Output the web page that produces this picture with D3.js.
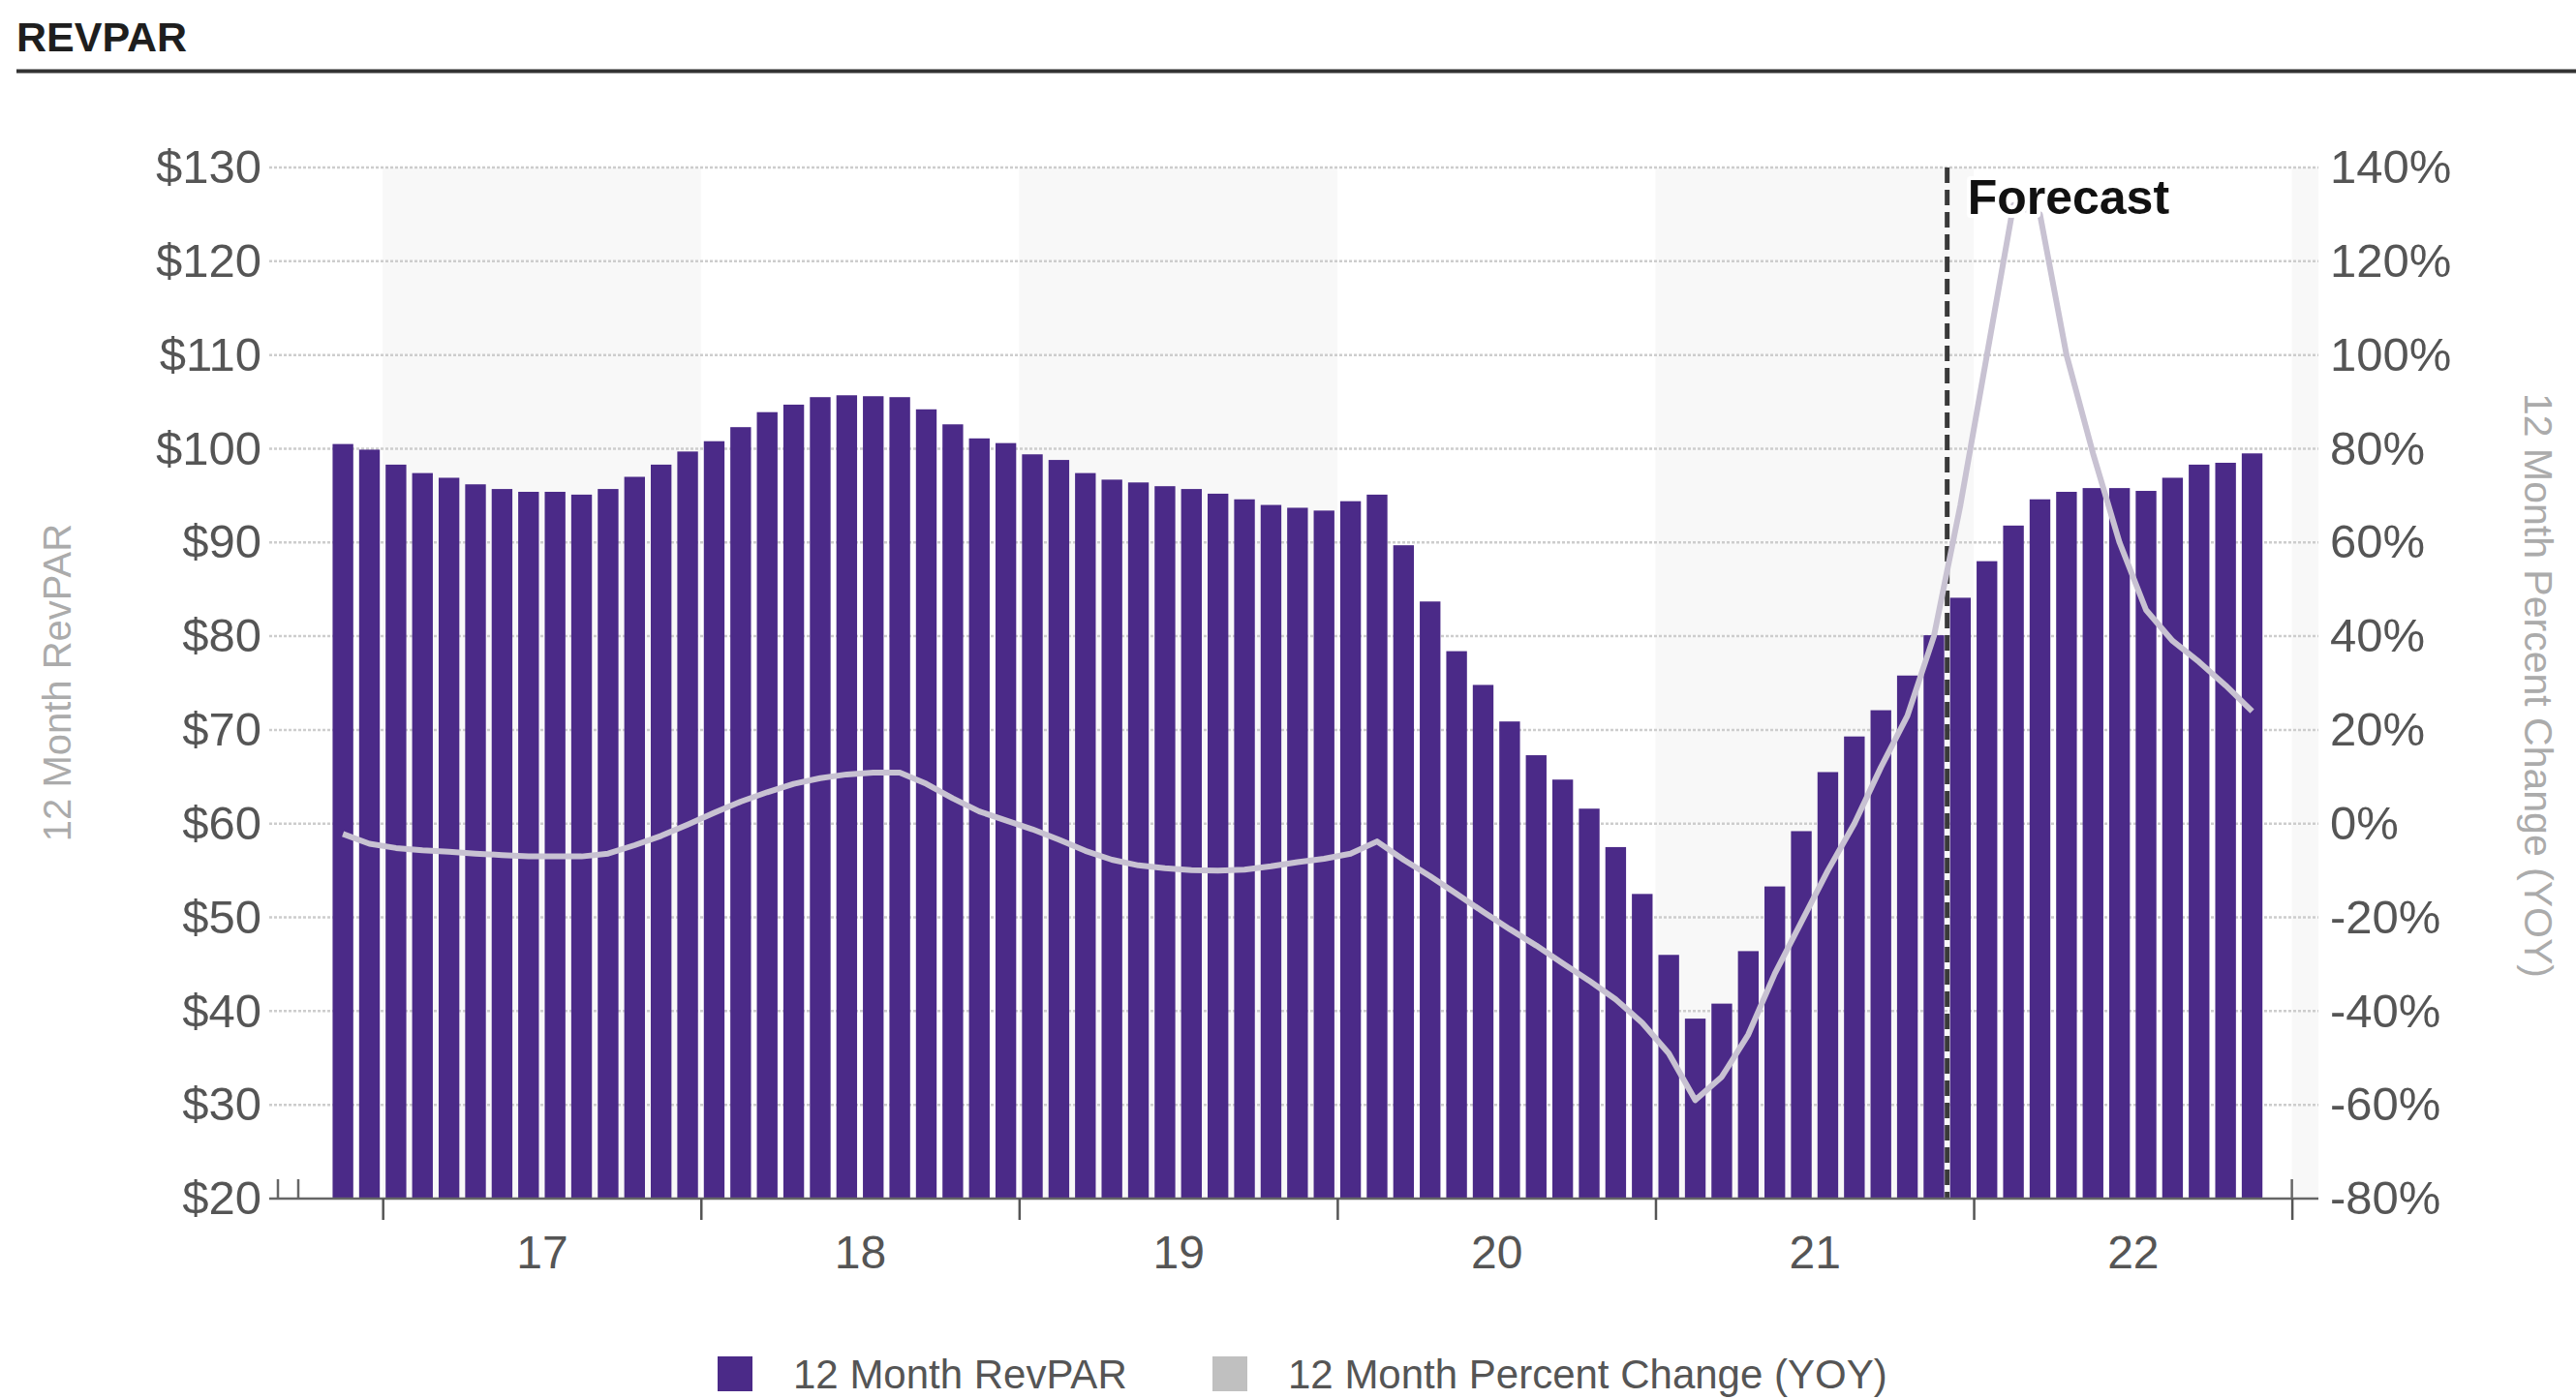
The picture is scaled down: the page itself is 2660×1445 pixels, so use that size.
<!DOCTYPE html>
<html><head><meta charset="utf-8">
<script src="https://cdn.jsdelivr.net/npm/d3@7"></script>
<style>
body{margin:0;background:#fff;}
svg{display:block;font-family:"Liberation Sans",Arial,Helvetica,sans-serif;}
</style></head><body>
<svg id="c" width="2660" height="1445"></svg>
<script>
// ---------- DATA ----------
const months = [
 "2016-11","2016-12",
 "2017-01","2017-02","2017-03","2017-04","2017-05","2017-06","2017-07","2017-08","2017-09","2017-10","2017-11","2017-12",
 "2018-01","2018-02","2018-03","2018-04","2018-05","2018-06","2018-07","2018-08","2018-09","2018-10","2018-11","2018-12",
 "2019-01","2019-02","2019-03","2019-04","2019-05","2019-06","2019-07","2019-08","2019-09","2019-10","2019-11","2019-12",
 "2020-01","2020-02","2020-03","2020-04","2020-05","2020-06","2020-07","2020-08","2020-09","2020-10","2020-11","2020-12",
 "2021-01","2021-02","2021-03","2021-04","2021-05","2021-06","2021-07","2021-08","2021-09","2021-10","2021-11","2021-12",
 "2022-01","2022-02","2022-03","2022-04","2022-05","2022-06","2022-07","2022-08","2022-09","2022-10","2022-11"
];
const revpar = [
 100.5, 99.9,
 98.3, 97.4, 96.9, 96.2, 95.7, 95.4, 95.4, 95.1, 95.7, 97.0, 98.3, 99.7,
 100.8, 102.3, 103.9, 104.7, 105.5, 105.7, 105.6, 105.5, 104.2, 102.6, 101.1, 100.6,
 99.4, 98.8, 97.4, 96.7, 96.4, 96.0, 95.7, 95.2, 94.6, 94.0, 93.7, 93.4,
 94.4, 95.1, 89.7, 83.7, 78.4, 74.8, 70.9, 67.3, 64.7, 61.6, 57.5, 52.5,
 46.0, 39.2, 40.8, 46.4, 53.3, 59.2, 65.5, 69.3, 72.1, 75.8, 80.1, 84.1,
 88.0, 91.8, 94.6, 95.4, 95.8, 95.8, 95.5, 96.9, 98.3, 98.5, 99.5
];
const pctChange = [
 -2.2, -4.3,
 -5.2, -5.7, -6.0, -6.4, -6.7, -7.0, -7.0, -7.0, -6.4, -4.6, -2.6, -0.2,
 2.3, 4.7, 6.7, 8.5, 9.7, 10.5, 10.9, 10.9, 8.5, 5.4, 2.6, 0.7,
 -1.2, -3.4, -5.8, -7.7, -8.9, -9.5, -9.9, -10.0, -9.8, -9.1, -8.2, -7.5,
 -6.4, -3.8, -7.7, -11.2, -15.0, -18.8, -22.5, -26.0, -29.8, -33.5, -37.5, -42.5,
 -49.0, -59.0, -54.0, -45.0, -32.0, -21.0, -10.0, 0.0, 12.0, 23.0, 40.0, 68.0,
 100.0, 132.0, 130.0, 100.0, 79.0, 60.0, 45.6, 39.0, 34.5, 29.5, 24.0
];
const leftTicks = [20,30,40,50,60,70,80,90,100,110,120,130];
const rightTicks = [-80,-60,-40,-20,0,20,40,60,80,100,120,140];
const years = [2017,2018,2019,2020,2021,2022];
const yearLabels = ["17","18","19","20","21","22"];
const shadedYears = [2017,2019,2021,2023];
const forecastStart = "2021-12";
const seriesNames = ["12 Month RevPAR","12 Month Percent Change (YOY)"];
const title = "REVPAR";
const leftTitle = "12 Month RevPAR";
const rightTitle = "12 Month Percent Change (YOY)";

// ---------- LAYOUT ----------
const PL = 278, PR = 2394, PT = 173, PB = 1238;
const barColor = "#4b2a88", lineColor = "#c8c2d2";
const svg = d3.select("#c");

const mIdx = s => { const [y,m] = s.split("-").map(Number); return (y-2017)*12 + (m-1); };
const x = d3.scaleLinear().domain([-4.28, 73.0]).range([PL, PR]);
const yL = d3.scaleLinear().domain([20,130]).range([PB, PT]);
const yR = d3.scaleLinear().domain([-80,140]).range([PB, PT]);
const step = x(1) - x(0);
const bw = step * 0.78;

// title + rule
svg.append("text").attr("x",17).attr("y",53).attr("font-size",43).attr("font-weight","bold")
  .attr("fill","#1e1e1e").text(title);
svg.append("line").attr("x1",17).attr("x2",2660).attr("y1",73.5).attr("y2",73.5)
  .attr("stroke","#333").attr("stroke-width",4);

// bands
svg.append("g").selectAll("rect").data(shadedYears).join("rect")
  .attr("x", d => Math.max(PL, x((d-2017)*12)))
  .attr("width", d => Math.min(PR, x((d-2017)*12+12)) - Math.max(PL, x((d-2017)*12)))
  .attr("y", PT).attr("height", PB-PT).attr("fill","#f8f8f8");

// gridlines
svg.append("g").selectAll("line").data(leftTicks.filter(t=>t>20)).join("line")
  .attr("x1",PL).attr("x2",PR).attr("y1",d=>yL(d)).attr("y2",d=>yL(d))
  .attr("stroke","#cdcdcd").attr("stroke-width",2.5).attr("stroke-dasharray","3,2");

// forecast line (behind bars)
const fx = x(mIdx(forecastStart));
svg.append("line").attr("x1",fx).attr("x2",fx).attr("y1",PT).attr("y2",PB)
  .attr("stroke","#3a3a3a").attr("stroke-width",5).attr("stroke-dasharray","16,7");

// bars
svg.append("g").selectAll("rect").data(months).join("rect")
  .attr("x",(d)=>x(mIdx(d)+0.5)-bw/2).attr("width",bw)
  .attr("y",(d,i)=>yL(revpar[i])).attr("height",(d,i)=>PB - yL(revpar[i]))
  .attr("fill",barColor);

// line
const line = d3.line().x((d,i)=>x(mIdx(months[i])+0.5)).y(d=>yR(d));
svg.append("path").attr("d",line(pctChange)).attr("fill","none")
  .attr("stroke",lineColor).attr("stroke-width",6).attr("stroke-linejoin","round");

// x axis
svg.append("line").attr("x1",PL).attr("x2",PR).attr("y1",PB).attr("y2",PB)
  .attr("stroke","#666").attr("stroke-width",2.5);
const xt = svg.append("g").attr("transform",`translate(0,${PB})`)
  .call(d3.axisBottom(x).tickValues(years.concat([2023]).map(y=>(y-2017)*12)).tickSize(22).tickFormat(""));
xt.select(".domain").remove();
xt.selectAll("line").attr("stroke","#555").attr("stroke-width",2.5);
const xl = svg.append("g").attr("transform",`translate(0,${PB})`)
  .call(d3.axisBottom(x).tickValues(years.map(y=>(y-2017)*12+6)).tickSize(0).tickPadding(38)
        .tickFormat((d,i)=>yearLabels[i]));
xl.select(".domain").remove();
xl.selectAll("text").attr("font-size",48).attr("fill","#555").attr("font-family","Liberation Sans, Arial");
// small upward ticks at axis ends
[PL+9, PL+30, x(72)].forEach(v=>{
  svg.append("line").attr("x1",v).attr("x2",v).attr("y1",PB-20).attr("y2",PB)
    .attr("stroke","#666").attr("stroke-width",2.5);
});

// y axes
const ya = svg.append("g").attr("transform",`translate(${PL},0)`)
  .call(d3.axisLeft(yL).tickValues(leftTicks).tickSize(0).tickPadding(8).tickFormat(d=>"$"+d));
ya.select(".domain").remove();
ya.selectAll("text").attr("font-size",49).attr("fill","#555").attr("font-family","Liberation Sans, Arial");
const yb = svg.append("g").attr("transform",`translate(${PR},0)`)
  .call(d3.axisRight(yR).tickValues(rightTicks).tickSize(0).tickPadding(12).tickFormat(d=>d+"%"));
yb.select(".domain").remove();
yb.selectAll("text").attr("font-size",49).attr("fill","#555").attr("font-family","Liberation Sans, Arial");

// axis titles
svg.append("text").attr("transform","translate(59,705) rotate(-90)").attr("text-anchor","middle")
  .attr("dominant-baseline","central").attr("font-size",40).attr("fill","#ababab").text(leftTitle);
svg.append("text").attr("transform","translate(2621,708) rotate(90)").attr("text-anchor","middle")
  .attr("dominant-baseline","central").attr("font-size",41).attr("fill","#ababab").text(rightTitle);

// forecast label
svg.append("text").attr("x",fx+21).attr("y",221).attr("font-size",50).attr("font-weight","bold")
  .attr("fill","#111").attr("stroke","#fff").attr("stroke-width",8).attr("paint-order","stroke")
  .attr("stroke-linejoin","round").text("Forecast");

// legend
const leg = [{x:741, c:barColor},{x:1252, c:"#c0c0c0"}];
leg.forEach((l,i)=>{
  svg.append("rect").attr("x",l.x).attr("y",1401).attr("width",36).attr("height",36).attr("fill",l.c);
  svg.append("text").attr("x",l.x+78).attr("y",1419).attr("dominant-baseline","central")
    .attr("font-size",42).attr("fill","#555").text(seriesNames[i]);
});
</script>
</body></html>
